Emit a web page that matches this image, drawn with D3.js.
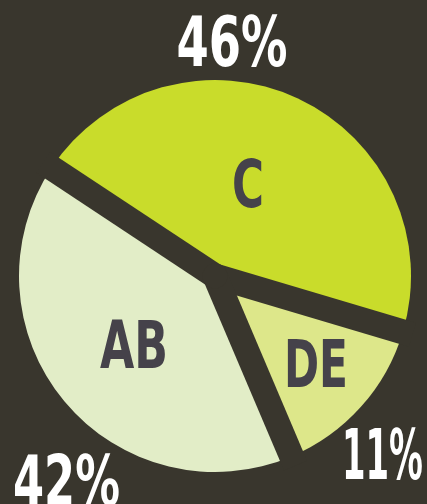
<!DOCTYPE html>
<html>
<head>
<meta charset="utf-8">
<script src="https://cdn.jsdelivr.net/npm/d3@7"></script>
<style>
  html, body { margin: 0; padding: 0; background: #39362d; }
  svg { display: block; }
</style>
</head>
<body>
<div id="chart"></div>
<script>
// Slices in drawing order (clockwise from the upper-left cut)
const categories = ['C', 'DE', 'AB'];
const shares = [45.3, 14.0, 40.7];       // slice sizes as drawn
const pctLabels = ['46%', '11%', '42%'];
const colors = ['#c9dc2b', '#dde78a', '#e2edc7'];

const width = 427, height = 504;
const bg = '#39362d';
const cx = 215, cy = 276, radius = 196;
const gap = 25;

// label layout (text anchors, not data)
const nameLayout = { C: [248, 207, 32], DE: [316, 387, 64], AB: [134, 368, 68] };
const pctLayout = { C: [232, 66, 111], DE: [382.5, 479, 81], AB: [66.5, 505, 107] };

const svg = d3.select('#chart')
  .append('svg')
  .attr('width', width)
  .attr('height', height);

svg.append('rect')
  .attr('width', width)
  .attr('height', height)
  .attr('fill', bg);

const data = categories.map((c, i) => ({ name: c, value: shares[i], pct: pctLabels[i], color: colors[i] }));

const start = -56.5 * Math.PI / 180;
const pie = d3.pie()
  .sort(null)
  .value(d => d.value)
  .startAngle(start)
  .endAngle(start + 2 * Math.PI);

const arcs = pie(data);

const arc = d3.arc()
  .innerRadius(0)
  .outerRadius(radius);

const g = svg.append('g')
  .attr('transform', `translate(${cx},${cy})`);

g.selectAll('path.slice')
  .data(arcs)
  .enter()
  .append('path')
  .attr('class', 'slice')
  .attr('d', arc)
  .attr('fill', d => d.data.color);

// dark cuts between the slices
g.selectAll('line.cut')
  .data(arcs)
  .enter()
  .append('line')
  .attr('class', 'cut')
  .attr('x1', 0)
  .attr('y1', 0)
  .attr('x2', d => Math.sin(d.startAngle) * (radius + 10))
  .attr('y2', d => -Math.cos(d.startAngle) * (radius + 10))
  .attr('stroke', bg)
  .attr('stroke-width', gap);

g.append('circle')
  .attr('r', gap / 2)
  .attr('fill', bg);

const font = '"Liberation Sans Narrow", "DejaVu Sans Condensed", "Roboto", sans-serif';

svg.selectAll('text.name')
  .data(data)
  .enter()
  .append('text')
  .attr('class', 'name')
  .attr('x', d => nameLayout[d.name][0])
  .attr('y', d => nameLayout[d.name][1])
  .attr('text-anchor', 'middle')
  .attr('textLength', d => nameLayout[d.name][2])
  .attr('lengthAdjust', 'spacingAndGlyphs')
  .attr('font-family', font)
  .attr('font-weight', 'bold')
  .attr('font-size', 66)
  .attr('fill', '#45424a')
  .text(d => d.name);

svg.selectAll('text.pct')
  .data(data)
  .enter()
  .append('text')
  .attr('class', 'pct')
  .attr('x', d => pctLayout[d.name][0])
  .attr('y', d => pctLayout[d.name][1])
  .attr('text-anchor', 'middle')
  .attr('textLength', d => pctLayout[d.name][2])
  .attr('lengthAdjust', 'spacingAndGlyphs')
  .attr('font-family', font)
  .attr('font-weight', 'bold')
  .attr('font-size', 69)
  .attr('fill', '#ffffff')
  .text(d => d.pct);
</script>
</body>
</html>
